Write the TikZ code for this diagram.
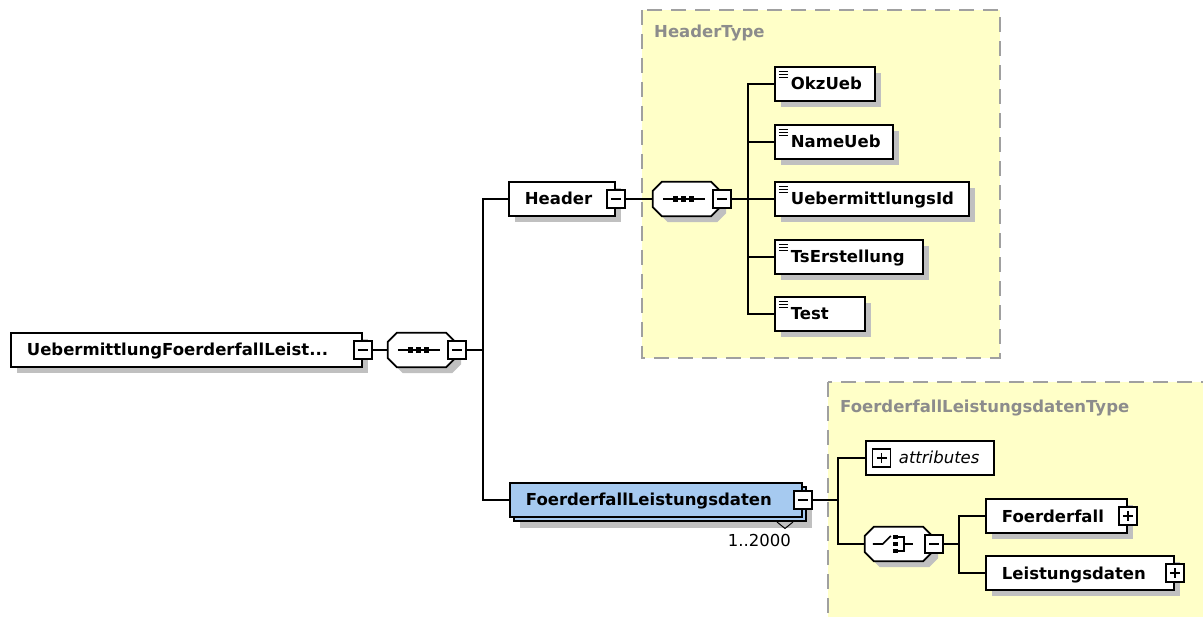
\documentclass[tikz,border=0pt]{standalone}
\usepackage{fontspec}
\setmainfont{DejaVu Sans}[BoldFont={DejaVu Sans Bold},ItalicFont={DejaVu Sans Oblique}]
\usetikzlibrary{shadows,calc}
\definecolor{typefill}{HTML}{FFFFC8}
\definecolor{typeline}{HTML}{A0A0A0}
\definecolor{typetext}{HTML}{8C8C8C}
\definecolor{shgray}{HTML}{C0C0C0}
\definecolor{elblue}{HTML}{A6CAF0}
\newcommand\octdraw[1]{\draw[octline] ($(#1.north west)+(9,0)$) -- ($(#1.north east)+(-9,0)$) -- ($(#1.north east)+(0,9)$) -- ($(#1.south east)+(0,-9)$) -- ($(#1.south east)+(-9,0)$) -- ($(#1.south west)+(9,0)$) -- ($(#1.south west)+(0,-9)$) -- ($(#1.north west)+(0,9)$) -- cycle;}
\newcommand\seqsym[1]{\draw[line width=1.6pt] ($(#1.west)+(10,0)$) -- ($(#1.east)+(-15,0)$);
  \foreach \dd in {-8,0,8} {\fill ($(#1.center)+(\dd-3,0)$) +(-2.7,-2.7) rectangle +(2.7,2.7);}}
\newcommand\choicesym[1]{%
  \draw[line width=1.6pt] ($(#1.west)+(8,0)$) -- ($(#1.west)+(18,0)$) -- ($(#1.west)+(26,-8)$);
  \foreach \dd in {-7,0,7} {\fill ($(#1.west)+(30.5,\dd)$) +(-2.4,-2.4) rectangle +(2.4,2.4);}
  \draw[line width=1.6pt] ($(#1.west)+(33,-7)$) -- ($(#1.west)+(39,-7)$) -- ($(#1.west)+(39,7)$) -- ($(#1.west)+(33,7)$);
  \draw[line width=1.6pt] ($(#1.west)+(39,0)$) -- ($(#1.west)+(48,0)$);}
\begin{document}
\begin{tikzpicture}[x=1pt,y=-1pt,
  elfont/.style={font=\fontsize{16.5}{19}\selectfont\bfseries},
  elem/.style={draw, line width=1.8pt, fill=white, anchor=west, minimum height=34pt,
    inner xsep=16pt, inner ysep=0pt, align=left, text height=12pt, text depth=0pt, elfont},
  shd/.style={drop shadow={shadow xshift=6pt, shadow yshift=-6pt, fill=shgray, opacity=1}},
  leaf/.style={path picture={\foreach \yy/\ll in {4.5/9,7.5/9,10.5/9}
      {\draw[line width=1.2pt] ($(path picture bounding box.north west)+(4,\yy)$) -- +(\ll,0);}}},
  minusbox/.style={draw, line width=1.5pt, fill=white, minimum size=18pt, inner sep=0pt,
    path picture={\draw[line width=1.4pt] ($(path picture bounding box.west)+(4,0)$) -- ($(path picture bounding box.east)+(-4,0)$);}},
  plusbox/.style={draw, line width=1.5pt, fill=white, minimum size=18pt, inner sep=0pt,
    path picture={\draw[line width=1.4pt] ($(path picture bounding box.west)+(4,0)$) -- ($(path picture bounding box.east)+(-4,0)$);
      \draw[line width=1.4pt] ($(path picture bounding box.north)+(0,4)$) -- ($(path picture bounding box.south)+(0,-4)$);}},
  octnode/.style={minimum width=67pt, minimum height=34pt, inner sep=0pt},
  octline/.style={draw, line width=1.8pt, fill=white, shd},
  conn/.style={line width=1.8pt},
  typebox/.style={fill=typefill, draw=typeline, line width=2pt, dash pattern=on 15pt off 9pt},
  typelabel/.style={anchor=base west, text=typetext, inner sep=0pt, elfont}
]
\useasboundingbox (0,0) rectangle (1203,617);
% type boxes
\path[typebox] (642,10) rectangle (1000,358);
\node[typelabel] (htl) at (654,38) {HeaderType};
\path[typebox] (828,382) rectangle (1220,640);
\node[typelabel] (ftl) at (840,413) {FoerderfallLeistungsdatenType};
% root
\node[elem, shd, text width=319pt] (root) at (10,350) {UebermittlungFoerderfallLeist...};
\node[minusbox] (rootm) at (root.east) {};
\node[octnode] (seq1) at (421.5,350) {};
\octdraw{seq1}
\seqsym{seq1}
\node[minusbox] (seq1m) at (457,350) {};
\draw[conn] (rootm.east) -- (seq1.west);
\coordinate (bus1) at (483,350);
\draw[conn] (seq1m.east) -- (bus1);
% header
\node[elem, shd, text width=74pt] (header) at (508,199) {Header};
\node[minusbox] (headerm) at (header.east) {};
\node[octnode] (seq2) at (686.5,199) {};
\octdraw{seq2}
\seqsym{seq2}
\node[minusbox] (seq2m) at (722,199) {};
\draw[conn] (headerm.east) -- (seq2.west);
\coordinate (bus2) at (748,199);
\draw[conn] (seq2m.east) -- (bus2);
\node[elem, shd, leaf, text width=68pt] (okz) at (774,84) {OkzUeb};
\node[elem, shd, leaf, text width=86pt] (name) at (774,142) {NameUeb};
\node[elem, shd, leaf, text width=162pt] (uid) at (774,199) {UebermittlungsId};
\node[elem, shd, leaf, text width=116pt] (ts) at (774,257) {TsErstellung};
\node[elem, shd, leaf, text width=58pt] (test) at (774,314) {Test};
\foreach \c in {okz,name,uid,ts,test} {\draw[conn] (bus2) |- (\c.west);}
% FoerderfallLeistungsdaten
\node[elem, fill=elblue,
  drop shadow={shadow xshift=10pt, shadow yshift=-11pt, fill=shgray, opacity=1},
  copy shadow={shadow xshift=4pt, shadow yshift=-4pt, fill=elblue, draw=black, line width=1.8pt},
  text width=260pt] (fld) at (509,500) {FoerderfallLeistungsdaten};
\node[minusbox] (fldm) at (fld.east) {};
\draw[conn] (bus1) |- (header.west);
\draw[conn] (bus1) |- (fld.west);
\draw[line width=1pt] (777,522) -- (785,528.5) -- (793,522);
\node[anchor=base east, inner sep=0pt, font=\fontsize{16.5}{19}\selectfont] (mult) at (791,547) {1..2000};
\coordinate (bus3) at (838,500);
\draw[conn] (fldm.east) -- (bus3);
\node[elem, font=\fontsize{16.5}{19}\selectfont, inner xsep=8pt, text width=112pt] (attr) at (865,458) {\hspace*{25pt}\itshape attributes};
\node[plusbox] (attrp) at (881.5,458) {};
\draw[conn] (bus3) |- (attr.west);
\node[octnode] (ch) at (898.5,544) {};
\octdraw{ch}
\choicesym{ch}
\node[minusbox] (chm) at (934,544) {};
\draw[conn] (bus3) |- (ch.west);
\coordinate (bus4) at (959,544);
\draw[conn] (chm.east) -- (bus4);
\node[elem, shd, text width=109pt] (ff) at (985,516) {Foerderfall};
\node[plusbox] (ffp) at (ff.east) {};
\node[elem, shd, text width=156pt] (ld) at (985,573) {Leistungsdaten};
\node[plusbox] (ldp) at (ld.east) {};
\draw[conn] (bus4) |- (ff.west);
\draw[conn] (bus4) |- (ld.west);
\end{tikzpicture}
\end{document}
